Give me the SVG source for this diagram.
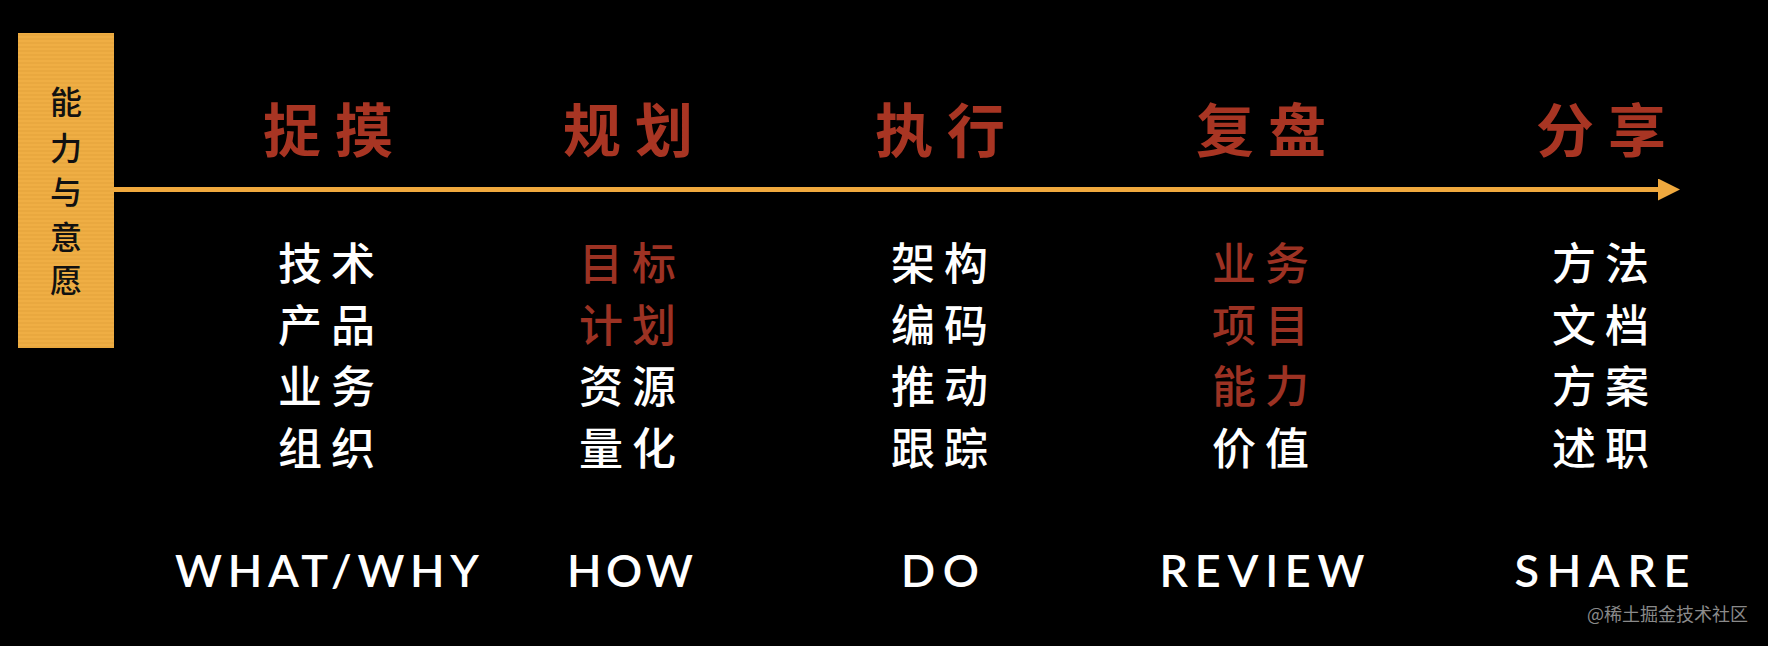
<svg xmlns="http://www.w3.org/2000/svg" width="1768" height="646" viewBox="0 0 1768 646">
<style>
.title{font-family:"Noto Sans CJK SC","Noto Sans",sans-serif;font-weight:700;font-size:58px;fill:#A83523;letter-spacing:14px;text-anchor:middle}
.item{font-family:"Noto Sans CJK SC","Noto Sans",sans-serif;font-weight:500;font-size:44px;fill:#FFFFFF;letter-spacing:9px;text-anchor:middle}
.hl{fill:#9C3223}
.en{font-family:"Lato","Liberation Sans",sans-serif;font-weight:600;font-size:45px;fill:#FFFFFF;text-anchor:middle}
.side{font-family:"Noto Sans CJK SC",sans-serif;font-weight:500;font-size:32px;fill:#111;text-anchor:middle}
.wm{font-family:"Noto Sans CJK SC",sans-serif;font-size:18px;fill:#8A8A8A}
</style>
<defs>
<pattern id="stripes" width="8" height="4" patternUnits="userSpaceOnUse">
<rect width="8" height="4" fill="#EFAE44"/>
<rect y="2.5" width="8" height="1" fill="#E3A23A"/>
</pattern>
<marker id="arr" markerWidth="22" markerHeight="22" refX="0" refY="11" orient="auto" markerUnits="userSpaceOnUse">
<path d="M0,0 L22,11 L0,22 Z" fill="#F0A93E"/>
</marker>
</defs>
<rect width="1768" height="646" fill="#000"/>
<g id="connectors">
<line x1="114" y1="189.5" x2="1658" y2="189.5" stroke="#F0A93E" stroke-width="5" marker-end="url(#arr)"/>
</g>
<g id="side-box">
<rect x="18" y="33" width="96" height="315" fill="url(#stripes)"/>
<text class="side"><tspan x="66" y="114">能</tspan><tspan x="66" y="160">力</tspan><tspan x="66" y="204">与</tspan><tspan x="66" y="249">意</tspan><tspan x="66" y="292">愿</tspan></text>
</g>
<g id="col1">
<text class="title" x="335" y="152">捉摸</text>
<text class="item" x="331" y="280">技术</text>
<text class="item" x="331" y="342">产品</text>
<text class="item" x="331" y="403">业务</text>
<text class="item" x="331" y="465">组织</text>
<text class="en" x="327" y="587" textLength="304" lengthAdjust="spacing">WHAT/WHY</text>
</g>
<g id="col2">
<text class="title" x="635" y="152">规划</text>
<text class="item hl" x="632" y="280">目标</text>
<text class="item hl" x="632" y="342">计划</text>
<text class="item" x="632" y="403">资源</text>
<text class="item" x="632" y="465">量化</text>
<text class="en" x="630" y="587" textLength="126" lengthAdjust="spacing">HOW</text>
</g>
<g id="col3">
<text class="title" x="947" y="152">执行</text>
<text class="item" x="944" y="280">架构</text>
<text class="item" x="944" y="342">编码</text>
<text class="item" x="944" y="403">推动</text>
<text class="item" x="944" y="465">跟踪</text>
<text class="en" x="940" y="587" textLength="78" lengthAdjust="spacing">DO</text>
</g>
<g id="col4">
<text class="title" x="1268" y="152">复盘</text>
<text class="item hl" x="1265" y="280">业务</text>
<text class="item hl" x="1265" y="342">项目</text>
<text class="item hl" x="1265" y="403">能力</text>
<text class="item" x="1265" y="465">价值</text>
<text class="en" x="1262" y="587" textLength="205" lengthAdjust="spacing">REVIEW</text>
</g>
<g id="col5">
<text class="title" x="1608" y="152">分享</text>
<text class="item" x="1605" y="280">方法</text>
<text class="item" x="1605" y="342">文档</text>
<text class="item" x="1605" y="403">方案</text>
<text class="item" x="1605" y="465">述职</text>
<text class="en" x="1602" y="587" textLength="175" lengthAdjust="spacing">SHARE</text>
</g>
<text class="wm" x="1587" y="621">@稀土掘金技术社区</text>
</svg>
